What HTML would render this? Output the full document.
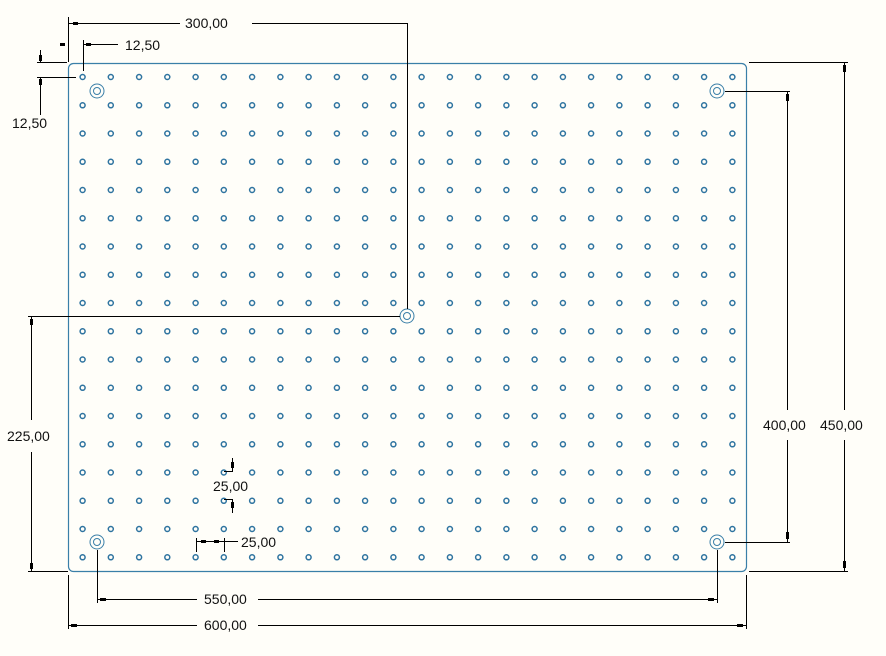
<!DOCTYPE html>
<html><head><meta charset="utf-8"><style>
html,body{margin:0;padding:0;background:#fffef9;}
svg{display:block;}
text{font-family:"Liberation Sans",sans-serif;font-size:14px;fill:#111;}
</style></head><body>
<svg id="s" width="886" height="656" viewBox="0 0 886 656" xmlns="http://www.w3.org/2000/svg">
<rect x="0" y="0" width="886" height="656" fill="#fffef9"/>
<rect x="68.5" y="63.5" width="678" height="508" rx="5" fill="none" stroke="#3a7fa8" stroke-width="1.2"/>
<g id="holes" fill="none" stroke="#2f74a0" stroke-width="1.5"></g>
<g fill="none" stroke="#3a7fa8" stroke-width="1">
<circle cx="97" cy="91" r="7"/><circle cx="97" cy="91" r="3.5"/>
<circle cx="717" cy="91" r="7"/><circle cx="717" cy="91" r="3.5"/>
<circle cx="97" cy="542" r="7"/><circle cx="97" cy="542" r="3.5"/>
<circle cx="717" cy="542" r="7"/><circle cx="717" cy="542" r="3.5"/>
<circle cx="407" cy="316" r="7"/><circle cx="407" cy="316" r="3.5"/>
</g>
<g stroke="#000" stroke-width="1" fill="none">
<path d="M68.5 17V62 M68.5 23.5H180 M252 23.5H407.5V309"/>
<path d="M83.5 40V71 M83.5 44.5H118"/>
<path d="M37 62.5H67 M40.5 50V62"/>
<path d="M37 77.5H76 M40.5 77V115"/>
<path d="M28 316.5H400 M28 571.5H68 M31.5 316V420 M31.5 452V571"/>
<path d="M749 62.5H848 M749 571.5H848 M844.5 62V410 M844.5 440V571"/>
<path d="M725 91.5H790 M725 542.5H790 M787.5 91V410 M787.5 440V542"/>
<path d="M97.5 550V603 M717.5 550V603 M97.5 599.5H197 M258 599.5H717"/>
<path d="M68.5 575V629 M746.5 575V629 M68.5 625.5H197 M258 625.5H746"/>
<path d="M232.5 458V471 M232.5 499V513 M224 471.5H233 M224 499.5H233"/>
<path d="M196.5 538V552 M224.5 538V552 M196.5 541.5H238"/>
</g>
<g fill="#000">
<rect x="73" y="22" width="5" height="3"/><rect x="86" y="43" width="5" height="3"/>
<rect x="60" y="43" width="5" height="3"/>
<rect x="39" y="55" width="3" height="6"/><rect x="39" y="79" width="3" height="6"/>
<rect x="30" y="319" width="3" height="6"/><rect x="30" y="563" width="3" height="6"/>
<rect x="843" y="65" width="3" height="7"/><rect x="843" y="561" width="3" height="7"/>
<rect x="786" y="94" width="3" height="7"/><rect x="786" y="532" width="3" height="7"/>
<rect x="100" y="598" width="6" height="3"/><rect x="708" y="598" width="6" height="3"/>
<rect x="71" y="624" width="6" height="3"/><rect x="737" y="624" width="6" height="3"/>
<rect x="231" y="462" width="3" height="6"/><rect x="231" y="502" width="3" height="6"/>
<rect x="201" y="540" width="5" height="3"/><rect x="214" y="540" width="5" height="3"/>
</g>
<text x="185" y="28">300,00</text>
<text x="125" y="50">12,50</text>
<text x="12" y="128">12,50</text>
<text x="7" y="441">225,00</text>
<text x="763" y="430">400,00</text>
<text x="820" y="430">450,00</text>
<text x="204" y="604">550,00</text>
<text x="204" y="630">600,00</text>
<text x="213" y="491">25,00</text>
<text x="241" y="547">25,00</text>
</svg>
<script>
var g=document.getElementById('holes'),h='';
for(var i=0;i<24;i++)for(var j=0;j<18;j++){
var x=82.6+28.25*i,y=77+28.25*j;
h+='<circle cx="'+x.toFixed(1)+'" cy="'+y.toFixed(1)+'" r="2.5"/>';}
g.innerHTML=h;
</script>
</body></html>
